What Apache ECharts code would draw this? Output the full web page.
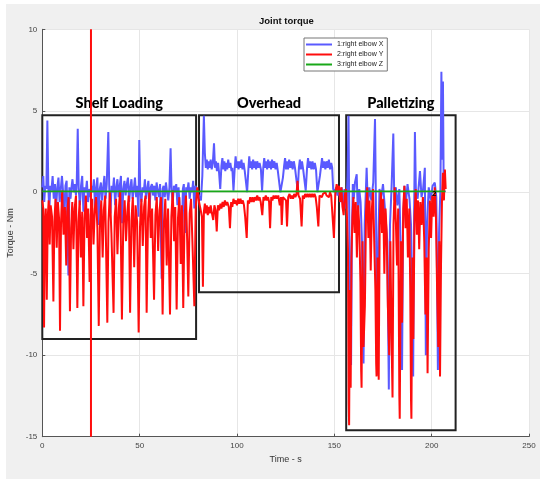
<!DOCTYPE html>
<html>
<head>
<meta charset="utf-8">
<script src="https://cdn.jsdelivr.net/npm/echarts@6/dist/echarts.min.js"></script>
<style>
html,body{margin:0;padding:0;background:#fff;}
#main{position:absolute;left:6px;top:4px;width:534px;height:475px;}
</style>
</head>
<body>
<div id="main"></div>
<script>
// series names (legend)
var seriesNames = ['1:right elbow X', '2:right elbow Y', '3:right elbow Z'];

// task boxes
var sectionNames = ['Shelf Loading', 'Overhead', 'Palletizing'];
var sectionStart = [-0.8, 80.5, 156.1];
var sectionEnd = [79.0, 152.4, 212.3];
var sectionTop = [4.72, 4.72, 4.72];
var sectionBottom = [-9.0, -6.13, -14.6];

// vertical cursor
var cursorTime = 25;
var cursorRange = [10, -15];

// 1:right elbow X  [time s, torque Nm]
var elbowX_shelf = [[0,0.3],[0.5,1.0],[1.0,-0.6],[1.5,0.4],[2.1,0.2],[2.6,4.4],[3.1,0.3],[3.6,-1.2],[4.1,0.4],[4.7,0.1],[5.3,1.0],[5.9,-0.4],[6.5,0.5],[7.1,-1.0],[7.7,0.3],[8.3,0.9],[8.9,-0.6],[9.5,0.2],[10.1,1.0],[10.7,0.0],[11.3,-1.8],[11.9,0.4],[12.5,0.7],[13.4,-5.1],[13.9,0.3],[14.5,-0.4],[14.9,0.2],[15.5,0.8],[16.1,0.0],[16.7,0.5],[17.3,-0.2],[17.7,0.6],[18.2,3.9],[18.7,0.2],[19.3,-0.8],[19.9,0.4],[20.5,1.0],[21.1,-1.2],[21.7,0.3],[22.3,0.0],[22.9,0.7],[23.5,-0.6],[24.1,0.2],[24.7,-0.3],[25.3,0.4],[25.9,0.0],[26.5,0.8],[27.1,-1.0],[27.7,0.3],[28.3,0.9],[28.9,-2.0],[29.5,0.2],[30.1,0.6],[30.7,-0.5],[31.3,0.3],[31.9,1.0],[32.5,-0.4],[33.1,0.5],[33.9,3.7],[34.4,0.2],[35.0,-1.3],[35.6,0.4],[36.2,0.0],[36.8,0.9],[37.4,-0.8],[38.0,0.3],[38.6,0.8],[39.2,-0.3],[39.8,0.4],[40.4,1.0],[41.0,-1.9],[41.6,0.2],[42.2,0.7],[42.8,-0.2],[43.4,0.5],[44.0,0.9],[44.6,-0.6],[45.2,0.3],[45.8,0.8],[46.4,-0.4],[47.0,0.2],[47.6,0.9],[48.2,-0.3],[48.8,0.4],[49.4,-1.5],[49.8,3.2],[50.3,0.2],[50.9,-0.6],[51.5,0.3],[52.1,0.0],[52.7,0.8],[53.3,-0.4],[53.9,0.2],[54.5,0.7],[55.1,-1.0],[55.7,0.3],[56.3,0.5],[56.9,-0.2],[57.5,0.4],[58.1,-0.5],[58.7,0.6],[59.3,0.1],[59.9,-0.3],[60.5,0.5],[61.3,-5.3],[61.8,0.2],[62.3,0.4],[62.9,-0.3],[63.5,0.6],[64.1,0.0],[64.7,-0.5],[65.3,0.3],[65.9,2.7],[66.4,0.1],[67.0,-0.6],[67.6,0.4],[68.2,0.0],[68.8,0.5],[69.4,-0.8],[70.0,0.3],[71.6,-3.6],[72.2,0.2],[72.7,0.5],[73.3,-2.5],[73.9,0.3],[74.5,0.1],[75.1,0.6],[75.7,-0.4],[76.3,0.3],[76.9,0.0],[77.5,0.7],[78.1,-1.0],[78.7,0.4],[79.6,0.0]];
var elbowX_overhead = [[80.5,0.1],[81.5,-0.5],[82.2,1.0],[83.0,4.7],[83.5,2.4],[84.0,1.5],[84.5,2.0],[85.0,1.4],[85.5,1.9],[86.0,1.5],[86.5,2.0],[87.0,1.4],[87.6,1.8],[88.2,3.0],[88.7,1.5],[89.2,1.9],[89.7,1.3],[90.3,1.8],[90.8,1.2],[91.4,0.2],[92.0,1.6],[92.5,2.1],[93.0,1.4],[93.5,1.9],[94.0,1.3],[94.5,1.8],[95.0,1.4],[95.5,2.0],[96.0,1.5],[96.6,1.8],[97.2,1.3],[97.6,1.5],[98.2,0.1],[98.8,1.4],[99.3,2.2],[99.8,1.5],[100.3,1.9],[100.8,1.4],[101.3,1.9],[101.8,1.5],[102.3,2.0],[102.8,1.4],[103.4,1.8],[104.0,1.3],[104.6,1.4],[105.2,0.0],[105.8,1.3],[106.3,2.2],[106.8,1.5],[107.3,1.9],[107.8,1.4],[108.3,2.0],[108.8,1.5],[109.3,1.9],[109.8,1.4],[110.4,1.9],[111.0,1.5],[111.6,1.8],[112.3,1.4],[112.9,0.1],[113.5,1.5],[114.0,2.1],[114.5,1.5],[115.0,1.9],[115.5,1.4],[116.0,2.0],[116.5,1.5],[117.0,1.9],[117.5,1.4],[118.0,2.0],[118.6,1.5],[119.2,1.9],[119.8,1.4],[120.4,1.8],[121.0,1.3],[121.6,1.4],[122.3,0.0],[123.0,0.1],[123.6,0.9],[124.2,1.6],[124.7,2.1],[125.2,1.4],[125.7,1.9],[126.2,1.4],[126.8,2.0],[127.4,1.5],[128.0,1.9],[128.6,1.4],[129.2,1.9],[129.8,1.5],[130.6,1.4],[131.2,0.1],[131.8,1.5],[132.3,2.0],[132.8,1.4],[133.4,1.9],[134.0,1.4],[134.6,1.5],[135.3,0.1],[136.0,1.5],[136.5,2.1],[137.0,1.5],[137.6,1.9],[138.2,1.4],[138.8,1.9],[139.4,1.4],[140.0,1.8],[140.6,1.4],[141.3,0.0],[142.0,0.1],[142.6,1.0],[143.2,1.6],[143.7,2.1],[144.2,1.5],[144.8,1.9],[145.4,1.4],[146.0,1.9],[146.6,1.5],[147.2,2.0],[147.8,1.4],[148.4,1.8],[148.9,1.5],[149.4,0.2],[150.2,0.0],[151.0,0.3],[151.6,-0.2],[152.4,0.2],[153.1,-0.6],[153.8,0.3],[154.5,-0.9],[155.2,0.2],[155.8,-0.4]];
var elbowX_pallet = [[156.2,-1.0],[156.8,1.0],[157.3,4.7],[157.7,-2.0],[158.1,-7.0],[158.6,-10.6],[159.0,-3.0],[159.5,0.5],[160.0,-0.4],[160.6,0.6],[161.5,1.1],[162.1,-1.5],[162.8,0.2],[163.5,-0.6],[164.2,-3.0],[165.0,-10.5],[165.6,-2.0],[166.6,1.5],[167.2,-0.8],[168.0,0.3],[169.0,-0.5],[170.0,0.6],[170.9,4.5],[171.4,-1.0],[172.0,-11.2],[172.6,-3.0],[173.2,0.2],[174.0,-0.4],[175.0,0.5],[176.0,-1.0],[177.2,-3.0],[178.0,-12.1],[178.6,-2.0],[179.4,0.3],[180.3,3.6],[180.8,-0.5],[181.6,0.3],[182.4,-0.8],[183.4,0.2],[184.2,-4.0],[184.8,-10.9],[185.3,-2.0],[186.0,0.4],[186.8,-0.6],[187.6,0.5],[188.6,-0.4],[189.4,-2.0],[190.5,-11.3],[190.9,-2.5],[191.4,3.7],[191.9,0.1],[192.8,-0.4],[194.0,1.3],[194.8,-0.3],[195.6,0.2],[196.5,1.5],[197.0,-10.0],[197.6,-2.0],[198.5,0.3],[199.5,-0.5],[200.5,0.4],[201.6,0.6],[202.4,-0.3],[203.2,-10.9],[203.8,-2.5],[204.5,0.2],[205.0,7.4],[205.4,2.0],[205.8,6.8],[206.2,0.0],[207.0,0.1]];

// 2:right elbow Y  [time s, torque Nm]
var elbowY_shelf = [[0,-0.5],[0.5,-1.0],[0.9,-8.3],[1.3,-2.0],[1.8,-1.0],[2.3,-6.6],[2.8,-1.5],[3.3,-0.5],[3.8,-3.2],[4.3,-0.8],[5.0,-1.5],[5.7,-6.7],[6.2,-1.8],[6.8,-0.4],[7.4,-3.4],[8.0,-0.6],[8.6,-1.6],[9.1,-8.5],[9.6,-2.0],[10.2,0.1],[10.9,-2.6],[11.6,-0.9],[12.3,-4.5],[12.8,-1.2],[13.5,-0.3],[14.2,-7.3],[14.8,-2.2],[15.4,-0.6],[16.0,-3.5],[16.6,-1.0],[17.3,-0.2],[18.0,-7.1],[18.6,-1.8],[19.2,-0.5],[19.8,-4.0],[20.5,-1.2],[21.1,-7.0],[21.7,-1.6],[22.4,-0.2],[23.0,-2.8],[23.6,-1.0],[24.3,-5.5],[24.9,-1.4],[25.6,-0.4],[26.3,-3.2],[27.0,-1.0],[27.6,-0.3],[28.3,-2.2],[29.0,-8.2],[29.6,-2.0],[30.3,-0.5],[31.0,-4.0],[31.6,-1.1],[32.3,-0.2],[33.4,-8.0],[34.0,-1.8],[34.7,0.0],[35.5,-2.5],[36.6,-7.4],[37.2,-1.5],[37.9,-0.4],[38.6,-3.8],[39.3,-1.0],[40.0,0.1],[40.9,-7.8],[41.6,-1.9],[42.3,-0.5],[43.0,-3.0],[43.7,-1.2],[44.4,-0.2],[45.1,-7.4],[45.8,-1.7],[46.5,-0.3],[47.2,-4.6],[47.9,-0.8],[48.7,-1.8],[49.5,-8.6],[50.2,-2.1],[50.9,-0.4],[51.6,-3.3],[52.3,-0.9],[53.0,-0.2],[53.6,-7.4],[54.3,-1.6],[55.0,0.0],[55.7,-2.8],[56.4,-1.0],[57.4,-6.6],[58.1,-1.4],[58.8,-0.3],[59.5,-3.6],[60.2,-1.1],[61.0,-0.3],[61.8,-7.5],[62.5,-1.8],[63.2,-0.4],[63.9,-4.5],[64.6,-1.0],[65.6,-7.5],[66.3,-1.5],[67.0,0.1],[67.7,-3.0],[68.3,-0.9],[69.0,-7.2],[69.7,-1.6],[70.4,-0.3],[71.1,-4.4],[71.7,-0.8],[72.4,-7.1],[73.1,-1.4],[73.8,-0.2],[74.4,-2.9],[75.0,-6.4],[75.7,-1.3],[76.4,-0.4],[77.1,-3.0],[78.1,-7.0],[78.8,-1.0],[79.6,0.3],[80.5,-0.6]];
var elbowY_overhead = [[81.2,-1.0],[82.0,-1.5],[82.5,-5.8],[83.0,-1.2],[83.5,-0.7],[84.0,-1.3],[84.5,-0.8],[85.0,-1.4],[85.5,-0.9],[86.0,-1.3],[86.5,-0.8],[87.0,-1.2],[87.8,-1.7],[88.4,-0.8],[89.0,-1.1],[89.6,-2.4],[90.2,-0.8],[90.8,-1.1],[91.5,-0.7],[92.0,-1.0],[92.6,-0.6],[93.2,-0.9],[93.8,-0.5],[94.4,-0.8],[95.0,-0.6],[95.8,-0.9],[96.4,-2.2],[97.0,-0.6],[97.6,-0.9],[98.2,-0.4],[98.8,-0.7],[99.4,-0.5],[100.0,-0.8],[100.6,-0.4],[101.2,-0.7],[101.8,-0.4],[102.4,-0.7],[103.0,-0.5],[103.6,-0.8],[104.2,-1.5],[105.0,-2.8],[105.6,-0.5],[106.2,-0.7],[106.8,-0.3],[107.4,-0.6],[108.0,-0.3],[108.6,-0.6],[109.2,-0.3],[109.8,-0.5],[110.4,-0.2],[111.0,-0.5],[111.6,-0.3],[112.2,-0.6],[113.0,-1.4],[113.6,-0.3],[114.2,-0.5],[114.8,-0.2],[115.4,-0.5],[116.0,-0.3],[116.5,-0.6],[117.0,-2.2],[117.6,-0.3],[118.2,-0.5],[118.8,-0.2],[119.4,-0.4],[120.0,-0.2],[120.6,-0.4],[121.2,-0.2],[122.0,-0.8],[122.6,-0.3],[123.0,-2.0],[123.6,-0.3],[124.4,-0.2],[125.2,-0.5],[125.7,-2.1],[126.3,-0.3],[127.0,-0.1],[127.6,-0.4],[128.2,-0.2],[128.8,-0.4],[129.4,-0.1],[130.0,-0.3],[130.6,-0.1],[131.1,0.7],[131.6,-0.2],[132.4,-0.4],[133.2,-2.1],[133.8,-0.2],[134.4,-0.4],[135.0,-0.1],[135.6,-0.3],[136.2,-0.1],[136.8,-0.3],[137.4,-0.1],[138.0,-0.3],[138.6,-0.1],[139.2,-0.3],[139.8,-0.1],[140.4,-0.3],[141.0,-0.9],[141.8,-2.1],[142.4,-0.2],[143.0,-0.1],[143.6,-0.3],[144.2,-0.1],[144.8,-0.2],[145.4,0.0],[146.0,-0.2],[146.6,-0.1],[147.2,-0.3],[147.8,0.0],[148.4,-0.2],[149.0,-0.1],[149.8,-2.8],[150.5,-0.1],[151.2,0.5],[151.8,0.1],[152.4,0.4],[153.0,-0.6],[153.6,0.3],[154.2,-0.9],[154.8,-1.4],[155.4,-0.2],[156.0,0.2]];
var elbowY_pallet = [[156.5,-1.5],[157.0,-3.5],[157.4,-13.0],[157.6,-14.3],[158.0,-6.0],[158.4,-12.0],[158.8,-4.0],[159.3,-1.5],[159.8,-0.3],[160.4,-2.5],[161.0,-0.6],[161.6,-4.0],[162.2,-0.8],[162.8,-2.0],[163.4,-5.5],[163.8,-11.0],[164.0,-12.0],[164.5,-3.0],[165.0,-9.5],[165.7,-7.0],[166.3,-1.2],[166.9,0.3],[167.5,-2.8],[168.1,-0.5],[168.7,-4.8],[169.3,-1.0],[169.9,0.2],[170.5,-3.0],[171.1,-6.0],[171.5,-10.5],[171.7,-11.3],[172.2,-4.0],[172.8,-11.5],[173.3,-2.0],[173.9,0.1],[174.5,-2.5],[175.1,-0.4],[175.7,-5.0],[176.3,-1.0],[176.9,-2.5],[177.5,-7.0],[178.2,-10.0],[178.8,-3.0],[179.4,-9.0],[179.9,-12.6],[180.4,-2.0],[181.0,0.3],[181.6,-1.8],[182.2,-4.5],[182.8,-1.0],[183.4,-12.5],[183.6,-13.9],[184.2,-3.0],[184.8,-8.0],[185.4,-1.0],[186.0,0.4],[186.6,-2.2],[187.2,-0.4],[187.8,-4.0],[188.5,-1.0],[189.0,-6.0],[189.4,-12.8],[189.6,-13.9],[190.1,-4.0],[190.6,-9.0],[191.2,-1.5],[191.8,0.2],[192.4,-2.6],[193.0,-0.5],[193.6,-3.5],[194.2,-0.6],[194.8,-2.0],[195.5,-0.3],[196.2,-3.0],[196.8,-7.5],[197.4,-4.0],[197.9,-11.1],[198.5,-3.5],[199.1,-0.5],[199.7,-2.8],[200.3,-0.2],[201.0,-1.5],[201.6,0.3],[202.2,-1.5],[202.8,-6.0],[203.4,-9.5],[203.9,-3.0],[204.3,-11.3],[204.8,-4.5],[205.3,-0.5],[205.8,1.2],[206.3,-0.5],[206.8,1.4],[207.2,0.2]];

// 3:right elbow Z
var elbowZ = [[0,0.05],[207,0.05]];

// data tip label
var tipLabel = {text: '2', time: 201.3, value: -0.1};

var elbowX = elbowX_shelf.concat(elbowX_overhead, elbowX_pallet);
var elbowY = elbowY_shelf.concat(elbowY_overhead, elbowY_pallet);

var boxes = [];
for (var i = 0; i < sectionNames.length; i++) {
    boxes.push([
        {name: sectionNames[i], coord: [sectionStart[i], sectionTop[i]]},
        {coord: [sectionEnd[i], sectionBottom[i]]}
    ]);
}

var chartDom = document.getElementById('main');
var myChart = echarts.init(chartDom);
var axisFont = 'Liberation Sans, Arial, sans-serif';
var option = {
    backgroundColor: '#f0f0f0',
    animation: false,
    graphic: [{
        type: 'text',
        left: 253,
        top: 12,
        style: {text: 'Joint torque', font: 'bold 9.5px ' + axisFont, fill: '#111'}
    }],
    legend: {
        data: seriesNames,
        orient: 'vertical',
        left: 298,
        top: 34,
        itemWidth: 26,
        itemHeight: 2,
        itemGap: 3,
        icon: 'rect',
        padding: [3, 4, 3, 2],
        backgroundColor: '#fff',
        borderColor: '#777',
        borderWidth: 1,
        textStyle: {fontSize: 7, color: '#222', fontFamily: axisFont}
    },
    grid: {
        left: 36.3, right: 11, top: 25.3, bottom: 42.3,
        containLabel: false,
        outerBoundsMode: 'none',
        show: true, backgroundColor: '#fff', borderWidth: 0
    },
    xAxis: {
        type: 'value', min: 0, max: 250, interval: 50,
        name: 'Time - s', nameLocation: 'middle', nameGap: 18,
        nameTextStyle: {fontSize: 9, color: '#333', fontFamily: axisFont},
        axisLine: {onZero: false, lineStyle: {color: '#555', width: 1}},
        axisTick: {inside: true, length: 3, lineStyle: {color: '#555'}},
        axisLabel: {fontSize: 8, color: '#444', margin: 5, fontFamily: axisFont},
        splitLine: {show: true, lineStyle: {color: '#e6e6e6', width: 1}}
    },
    yAxis: {
        type: 'value', min: -15, max: 10, interval: 5,
        name: 'Torque - Nm', nameLocation: 'middle', nameGap: 20,
        nameTextStyle: {fontSize: 9, color: '#333', fontFamily: axisFont},
        axisLine: {show: true, onZero: false, lineStyle: {color: '#555', width: 1}},
        axisTick: {show: true, inside: true, length: 3, lineStyle: {color: '#555'}},
        axisLabel: {fontSize: 8, color: '#444', margin: 5, fontFamily: axisFont},
        splitLine: {show: true, lineStyle: {color: '#e6e6e6', width: 1}}
    },
    series: [{
        name: seriesNames[0],
        type: 'line',
        data: elbowX,
        showSymbol: false,
        symbol: 'none',
        lineStyle: {color: '#5a5aff', width: 2},
        itemStyle: {color: '#5a5aff'},
        z: 2
    }, {
        name: seriesNames[1],
        type: 'line',
        data: elbowY,
        showSymbol: false,
        symbol: 'none',
        lineStyle: {color: '#ff0d0d', width: 2},
        itemStyle: {color: '#ff0d0d'},
        z: 3,
        markPoint: {
            symbol: 'circle',
            symbolSize: 0,
            data: [{coord: [tipLabel.time, tipLabel.value]}],
            label: {show: true, formatter: tipLabel.text, color: '#000', fontSize: 8, fontWeight: 'bold', position: 'inside'}
        }
    }, {
        name: 'cursor',
        type: 'line',
        data: [[cursorTime, cursorRange[0]], [cursorTime, cursorRange[1]]],
        showSymbol: false,
        symbol: 'none',
        lineStyle: {color: '#ff0d0d', width: 2},
        z: 3
    }, {
        name: seriesNames[2],
        type: 'line',
        data: elbowZ,
        showSymbol: false,
        symbol: 'none',
        clip: false,
        lineStyle: {color: '#19a819', width: 1.8},
        itemStyle: {color: '#19a819'},
        z: 4,
        markArea: {
            silent: true,
            itemStyle: {color: 'rgba(0,0,0,0)', borderColor: '#222', borderWidth: 2},
            label: {
                show: true, position: 'top', distance: 4,
                color: '#000', fontSize: 14.5, fontWeight: 900, fontFamily: 'Lato, sans-serif'
            },
            data: boxes
        }
    }]
};
myChart.setOption(option);
</script>
</body>
</html>
